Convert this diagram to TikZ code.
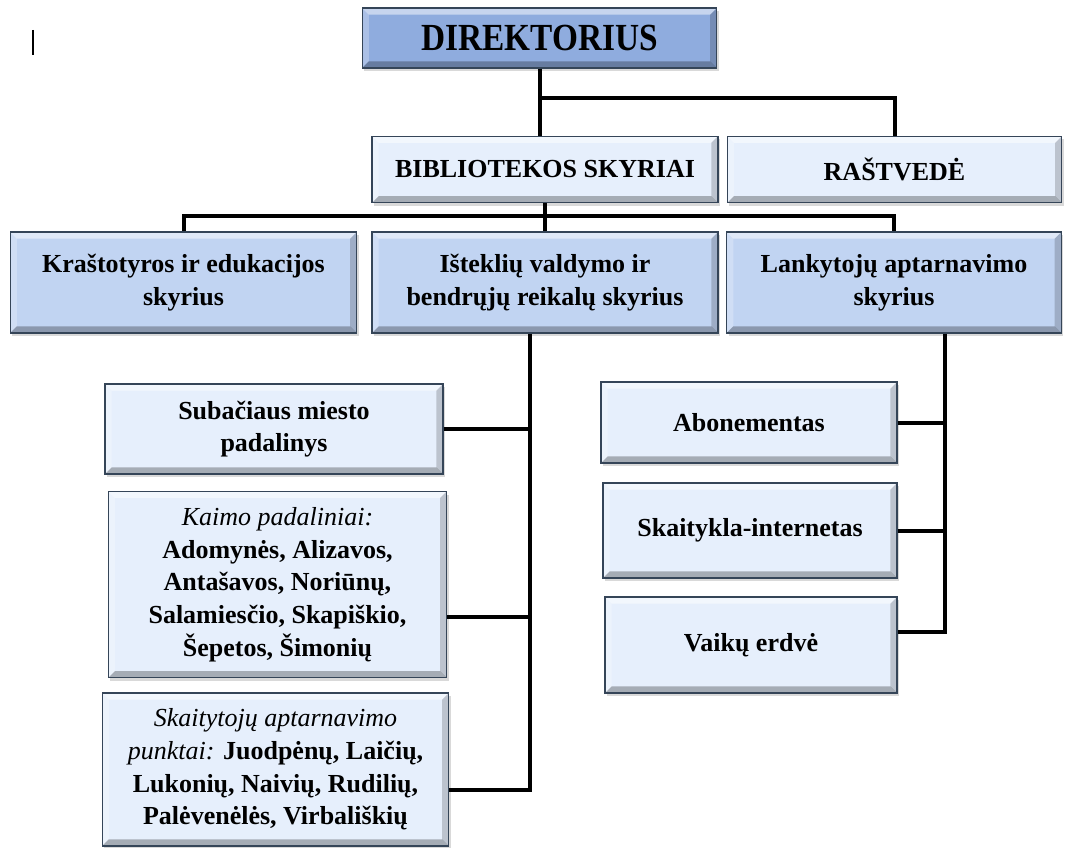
\documentclass[tikz,border=0pt]{standalone}
\usepackage{fontspec}
\setmainfont{Liberation Serif}
\usepackage{tikz}
\usetikzlibrary{shadows}
\definecolor{dirblue}{HTML}{8FACDE}
\definecolor{midblue}{HTML}{C1D4F2}
\definecolor{lightblue}{HTML}{E6EFFC}
\definecolor{edge}{HTML}{354558}
\def\bevelw{5pt}
\tikzset{
  bevel/.style={path picture={
    \path (path picture bounding box.south west) coordinate (bsw)
          (path picture bounding box.north east) coordinate (bne)
          (bsw |- bne) coordinate (bnw) (bsw -| bne) coordinate (bse);
    \fill[white, opacity=0.5] (bnw) -- (bne) -- ([shift={(-\bevelw,-\bevelw)}]bne)
      -- ([shift={(\bevelw,-\bevelw)}]bnw) -- cycle;
    \fill[white, opacity=0.25] (bsw) -- (bnw) -- ([shift={(\bevelw,-\bevelw)}]bnw)
      -- ([shift={(\bevelw,\bevelw)}]bsw) -- cycle;
    \fill[black, opacity=0.28] (bsw) -- (bse) -- ([shift={(-\bevelw,\bevelw)}]bse)
      -- ([shift={(\bevelw,\bevelw)}]bsw) -- cycle;
    \fill[black, opacity=0.18] (bse) -- (bne) -- ([shift={(-\bevelw,-\bevelw)}]bne)
      -- ([shift={(-\bevelw,\bevelw)}]bse) -- cycle;
  }},
  box/.style={draw=edge, line width=0.9pt, align=center, inner sep=2pt,
    font=\fontsize{19.5}{24.5}\selectfont\bfseries,
    drop shadow={opacity=0.3, shadow xshift=1.5pt, shadow yshift=-2.5pt},
    bevel},
  topbox/.style={box, fill=dirblue},
  midbox/.style={box, fill=midblue},
  lowbox/.style={box, fill=lightblue},
  conn/.style={draw=black, line width=3pt}
}

\begin{document}
\begin{tikzpicture}[x=0.75pt, y=-0.75pt]
  \useasboundingbox (0,0) rectangle (1077,848);
  \draw[line width=1pt] (33,30) -- (33,55);

  % top
  \node[topbox, minimum width=266pt, minimum height=45pt,
        font=\fontsize{25}{30}\selectfont\bfseries] (dir) at (539.5,38)
        {\scalebox{1}[1.15]{DIREKTORIUS}};
  \node[lowbox, minimum width=259.5pt, minimum height=50pt] (bib) at (545,169.5) {BIBLIOTEKOS SKYRIAI};
  \node[lowbox, minimum width=251pt, minimum height=50pt] (rast) at (894.5,169.5) {RAŠTVEDĖ};

  % skyriai
  \node[midbox, minimum width=260pt, minimum height=75.75pt] (kras) at (183.5,282.5) {Kraštotyros ir edukacijos\\ skyrius};
  \node[midbox, minimum width=259.5pt, minimum height=75.75pt] (ist) at (545,282.5) {Išteklių valdymo ir\\ bendrųjų reikalų skyrius};
  \node[midbox, minimum width=251pt, minimum height=75.75pt] (lank) at (894,282.5) {Lankytojų aptarnavimo\\ skyrius};

  % padaliniai
  \node[lowbox, minimum width=253.5pt, minimum height=67.5pt] (sub) at (274,429) {Subačiaus miesto\\ padalinys};
  \node[lowbox, minimum width=254pt, minimum height=140pt] (kaimo) at (277.5,584.5)
    {{\mdseries\itshape Kaimo padaliniai:}\\ Adomynės, Alizavos,\\ Antašavos, Noriūnų,\\ Salamiesčio, Skapiškio,\\ Šepetos, Šimonių};
  \node[lowbox, minimum width=260pt, minimum height=114.75pt] (skait) at (275.5,769.5)
    {{\mdseries\itshape Skaitytojų aptarnavimo}\\ {\mdseries\itshape punktai:} Juodpėnų, Laičių,\\ Lukonių, Naivių, Rudilių,\\ Palėvenėlės, Virbališkių};

  \node[lowbox, minimum width=222pt, minimum height=60.75pt] (abon) at (749,422.5) {Abonementas};
  \node[lowbox, minimum width=220.5pt, minimum height=71.25pt] (skl) at (750,530.5) {Skaitykla-internetas};
  \node[lowbox, minimum width=219pt, minimum height=72pt] (vaik) at (751,645) {Vaikų erdvė};

  % connectors
  \coordinate (dj) at (dir.south |- 0,98);
  \coordinate (bj) at (bib.south |- 0,216);
  \draw[conn] (dir.south) -- (dir.south |- bib.north);
  \draw[conn] (dj) -| (rast.north);
  \draw[conn] (bib.south) -- (ist.north);
  \draw[conn] (kras.north) |- (bj) -| (lank.north);

  \coordinate (kj) at ([yshift=-24pt]kaimo.east);
  \coordinate (sj) at ([yshift=-15.4pt]skait.east);
  \draw[conn] (ist.south -| 530,0) |- (sj);
  \draw[conn] (sub.east) -- (sub.east -| 530,0);
  \draw[conn] (kj) -- (kj -| 530,0);

  \coordinate (vj) at ([yshift=9.75pt]vaik.east);
  \draw[conn] (lank.south -| 945,0) |- (vj);
  \draw[conn] (abon.east) -- (abon.east -| 945,0);
  \draw[conn] (skl.east) -- (skl.east -| 945,0);
\end{tikzpicture}
\end{document}
